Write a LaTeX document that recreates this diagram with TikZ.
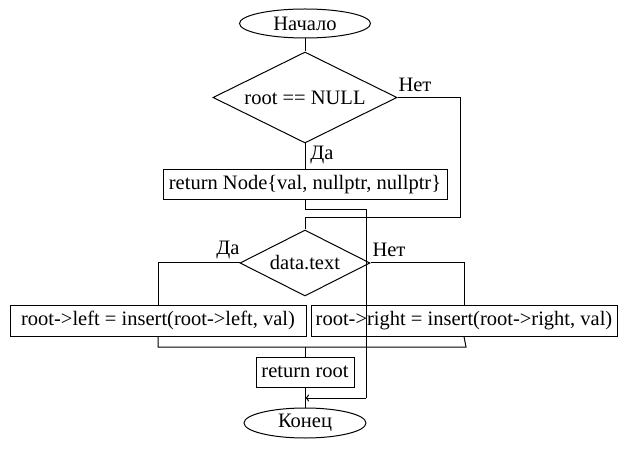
\documentclass[tikz,border=0pt]{standalone}
\usepackage{fontspec}
\setmainfont{Liberation Serif}
\usetikzlibrary{shapes.geometric,arrows.meta}
\begin{document}
\begin{tikzpicture}[x=1pt,y=-1pt,
  every node/.style={font=\fontsize{20.5}{25}\selectfont},
  base/.style={draw,line width=1pt,inner sep=0pt},
  term/.style={base,ellipse},
  cond/.style={base,diamond,aspect=2},
  proc/.style={base,rectangle},
  lbl/.style={inner sep=0pt},
  line/.style={line width=1pt}]
\useasboundingbox (0,0) rectangle (632,449);
\node[term,minimum width=131pt,minimum height=29pt] (start) at (305,23.5) {Начало};
\node[cond,minimum width=184pt,minimum height=91pt] (d1) at (305,97.5) {root == NULL};
\node[proc,minimum width=284pt,minimum height=30pt] (b1) at (305,185) {return Node\{val, nullptr, nullptr\}};
\node[cond,minimum width=130pt,minimum height=66pt] (d2) at (305,263) {data.text};
\node[proc,minimum width=296pt,minimum height=31pt] (bl) at (158,320.5) {root->left = insert(root->left, val)};
\node[proc,minimum width=306pt,minimum height=31pt] (br) at (464,320.5) {root->right = insert(root->right, val)};
\node[proc,minimum width=98pt,minimum height=30pt] (rr) at (305,372) {return root};
\node[term,minimum width=122pt,minimum height=30pt] (end) at (305,423) {Конец};

\node[lbl] (l1) at (415,85) {Нет};
\node[lbl] (l2) at (322,155) {Да};
\node[lbl] (l3) at (228,250) {Да};
\node[lbl] (l4) at (389,250) {Нет};

\coordinate (m1) at (460,218);
\coordinate (m2) at (305,218);
\coordinate (j1) at (305,210);
\coordinate (j2) at (366,210);
\coordinate (j3) at (366,398);
\coordinate (arr) at (305,398);
\coordinate (q1) at (155,347);
\coordinate (q2) at (466,347);
\coordinate (q3) at (305,347);

\draw[line] (start.south) -- (d1.north);
\draw[line] (d1.east) -| (m1) -- (m2) -- (d2.north);
\draw[line] (d1.south) -- (b1.north);
\draw[line] (b1.south) -- (j1) -- (j2) -- (j3);
\draw[line,-{To[length=4pt,width=7pt]}] (j3) -- (arr);
\draw[line] (d2.west) -| (bl.north);
\draw[line] (d2.east) -| (br.north);
\draw[line] (bl.south) |- (q2) -- (br.south);
\draw[line] (q3) -- (rr.north);
\draw[line] (rr.south) -- (end.north);
\end{tikzpicture}
\end{document}
